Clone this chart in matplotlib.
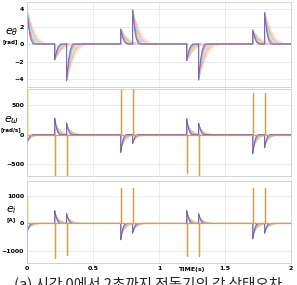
import numpy as np
import matplotlib
matplotlib.use('Agg')
import matplotlib.pyplot as plt

# event times (s)
event_t = [0.0, 0.21, 0.30, 0.71, 0.80, 1.21, 1.30, 1.71, 1.80]

# e_theta peaks at each event
theta_peak = [3.9, -1.8, -4.2, 1.7, 3.9, -1.9, -4.1, 1.6, 3.6]
# e_omega: response of the fan curves and the orange needle
omega_peak = [-150, 280, 200, -300, -150, 270, 200, -320, -220]
omega_needle = [800, -800, -800, 800, 800, -650, -800, 700, 700]
# e_i
cur_peak = [-330, 470, 360, -600, -360, 470, 360, -570, -360]
cur_needle = [1000, -1270, -1160, 1300, 1300, -1200, -1200, 1300, 1300]
cur_start_blue = -1500

# fan curves: colour, settle time (s), peak scale (slow ones drawn first)
colors = ['#ffd8cc', '#fbc4d8', '#f7b267', '#b5dcae', '#9fe0ea', '#b39ddb', '#ef6f6c', '#5c6bc0']
settle = [0.15, 0.13, 0.11, 0.095, 0.08, 0.065, 0.055, 0.045]
scale = [0.55, 0.65, 0.75, 0.8, 0.85, 0.9, 1.0, 1.0]

# decay shape: (fraction of settle time, fraction of peak)
shape_dt = [0.0, 0.0, 0.15, 0.35, 0.6, 1.0]
shape_v = [0.0, 1.0, 0.7, 0.4, 0.15, 0.0]


def curve(peaks, tau, k):
    t = [0.0]
    v = [0.0]
    for t0, p in zip(event_t, peaks):
        for dt, f in zip(shape_dt, shape_v):
            t.append(t0 + dt * tau)
            v.append(p * f * k)
    t.append(2.0)
    v.append(0.0)
    return t, v


def needle(peaks):
    t = []
    v = []
    for t0, p in zip(event_t, peaks):
        t += [t0, t0, t0 + 0.002, t0 + 0.002]
        v += [0.0, p, p, 0.0]
    return [0.0] + t + [2.0], [0.0] + v + [0.0]


plt.rcParams['font.family'] = ['DejaVu Sans']
fig = plt.figure(figsize=(2.97, 2.85), dpi=100)

ax1 = fig.add_axes([0.091, 0.695, 0.889, 0.298])
ax2 = fig.add_axes([0.091, 0.382, 0.889, 0.305])
ax3 = fig.add_axes([0.091, 0.077, 0.889, 0.288])

for c, tau, k in zip(colors, settle, scale):
    t, v = curve(theta_peak, tau, 1.0)
    ax1.plot(t, v, color=c, lw=0.6)
for c, tau, k in zip(colors, settle, scale):
    t, v = curve(omega_peak, tau * 0.8, k)
    ax2.plot(t, v, color=c, lw=0.6)
    t, v = curve(cur_peak, tau * 0.8, k)
    if c == '#5c6bc0':
        t[0], v[0] = 0.0, cur_start_blue
    ax3.plot(t, v, color=c, lw=0.6)
t, v = needle(omega_needle)
ax2.plot(t, v, color='#f39c12', lw=0.9)
t, v = needle(cur_needle)
ax3.plot(t, v, color='#f39c12', lw=0.9)

ax1.set_ylim(-4.9, 4.8)
ax1.set_yticks([-4, -2, 0, 2, 4])
ax2.set_ylim(-700, 770)
ax2.set_yticks([-500, 0, 500])
ax3.set_ylim(-1450, 1550)
ax3.set_yticks([-1000, 0, 1000])

labels = [(ax1, r'$e_{\theta}$', '[rad]'), (ax2, r'$e_{\omega}$', '[rad/s]'), (ax3, r'$e_{i}$', '[A]')]
for ax, sym, unit in labels:
    ax.set_xlim(0, 2)
    ax.set_xticks([0, 0.5, 1, 1.5, 2])
    ax.grid(True, color='#e8e8e8', lw=0.6)
    for s in ax.spines.values():
        s.set_color('#cccccc')
        s.set_linewidth(0.6)
    ax.tick_params(length=0, labelsize=4.5, pad=2)
    for lab in ax.get_yticklabels():
        lab.set_fontweight('bold')
    ax.text(-0.058, 0.64, sym, transform=ax.transAxes, fontsize=8, ha='center', va='center')
    ax.text(-0.062, 0.53, unit, transform=ax.transAxes, fontsize=4, fontweight='bold',
            ha='center', va='center')

ax1.set_xticklabels([])
ax2.set_xticklabels([])
ax3.set_xticklabels(['0', '0.5', '1', '1.5', '2'], fontweight='bold')
ax3.text(1.24, -0.075, 'TIME(s)', transform=ax3.get_xaxis_transform(), fontsize=4.5,
         fontweight='bold', ha='center', va='center')

fig.text(0.5, 0.005, '(a) 시간 0에서 2초까지 전동기의 각 상태오차', fontsize=10.5,
         family=['Noto Sans CJK KR', 'DejaVu Sans'], ha='center', va='center', color='#222222')

fig.savefig('out.png', dpi=100)
